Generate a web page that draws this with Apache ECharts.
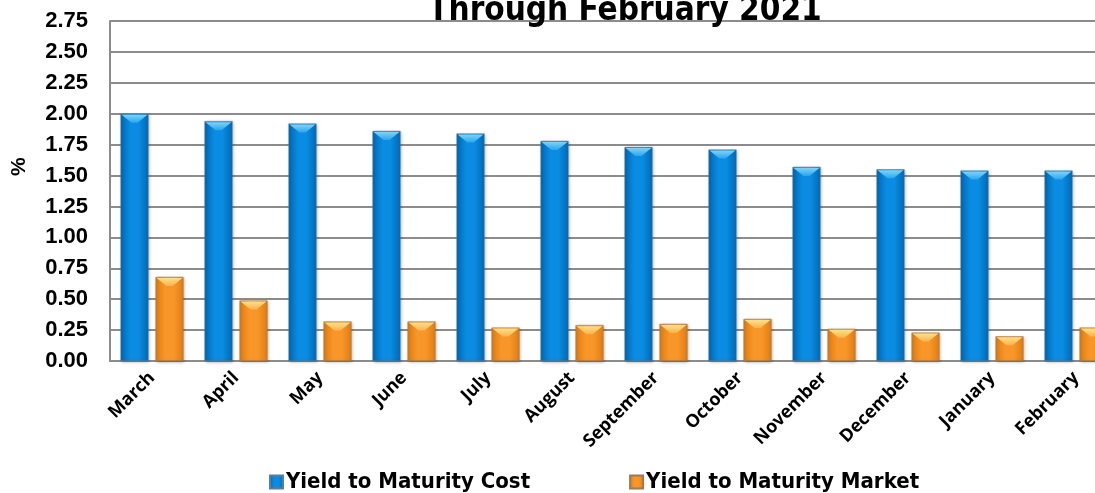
<!DOCTYPE html>
<html>
<head>
<meta charset="utf-8">
<script src="https://cdn.jsdelivr.net/npm/echarts@6/dist/echarts.min.js"></script>
<style>
  html, body { margin: 0; padding: 0; background: #fff; }
  #chart { width: 1095px; height: 493px; }
</style>
</head>
<body>
<div id="chart"></div>
<script>
// Monthly portfolio yields, March 2020 through February 2021 (%)
const months = ['March', 'April', 'May', 'June', 'July', 'August', 'September',
  'October', 'November', 'December', 'January', 'February'];
const yieldCost = [2.00, 1.94, 1.92, 1.86, 1.84, 1.78, 1.73, 1.71, 1.57, 1.55, 1.54, 1.54];
const yieldMarket = [0.68, 0.49, 0.32, 0.32, 0.27, 0.29, 0.30, 0.34, 0.26, 0.23, 0.20, 0.27];
const seriesNames = ['Yield to Maturity Cost', 'Yield to Maturity Market'];

const condensed = '"Liberation Sans Narrow", "DejaVu Sans Condensed", "Roboto Condensed", sans-serif';
const BAR_W = 28;
const BAR_GAP = 7;

function barFill(dark, mid) {
  return new echarts.graphic.LinearGradient(0, 0, 1, 0, [
    { offset: 0, color: dark },
    { offset: 0.35, color: mid },
    { offset: 0.65, color: mid },
    { offset: 1, color: dark }
  ]);
}

// Light chevron bevel on top of each bar
function bevelSeries(values, side, light, edge) {
  return {
    type: 'custom',
    silent: true,
    z: 5,
    data: values.map((v, i) => [i, v]),
    renderItem: function (params, api) {
      const p = api.coord([api.value(0), api.value(1)]);
      const cx = p[0] + side * (BAR_W + BAR_GAP) / 2;
      const x0 = cx - BAR_W / 2 + 1, x1 = cx + BAR_W / 2 - 1;
      const y = p[1] + 1;
      return {
        type: 'polygon',
        shape: { points: [[x0, y], [x1, y], [cx + 3, y + 8], [cx - 3, y + 8]] },
        style: {
          fill: new echarts.graphic.LinearGradient(0, 0, 0, 1, [
            { offset: 0, color: light },
            { offset: 1, color: edge }
          ])
        }
      };
    }
  };
}

const chart = echarts.init(document.getElementById('chart'), null, { renderer: 'canvas' });
chart.setOption({
  animation: false,
  backgroundColor: '#ffffff',
  title: {
    text: 'Through February 2021',
    left: 620,
    textAlign: 'center',
    top: -10,
    textStyle: { fontFamily: condensed, fontWeight: 'bold', fontSize: 33, color: '#000' }
  },
  graphic: [{
    type: 'text',
    x: 9,
    y: 176,
    rotation: Math.PI / 2,
    style: {
      text: '%',
      fontFamily: 'Arial, "Liberation Sans", sans-serif',
      fontWeight: 'bold',
      fontSize: 21,
      fill: '#000'
    }
  }],
  grid: { left: 110, top: 21, width: 1008, height: 340, outerBoundsMode: 'none' },
  legend: {
    top: 466,
    left: 264,
    itemGap: 99,
    itemWidth: 13,
    itemHeight: 13,
    icon: 'rect',
    textStyle: { fontFamily: condensed, fontWeight: 'bold', fontSize: 22, color: '#000', padding: [0, 0, 0, -2] },
    data: seriesNames
  },
  xAxis: {
    type: 'category',
    data: months,
    axisLine: { lineStyle: { color: '#8c8c8c', width: 2 } },
    axisTick: { show: false },
    axisLabel: {
      rotate: 45,
      interval: 0,
      margin: 14,
      fontFamily: '"Open Sans", "DejaVu Sans", sans-serif',
      fontWeight: 'bold',
      fontSize: 18,
      color: '#000'
    }
  },
  yAxis: {
    type: 'value',
    min: 0,
    max: 2.75,
    interval: 0.25,
    axisLine: { show: true, lineStyle: { color: '#8c8c8c', width: 2 } },
    axisTick: { show: false },
    splitLine: { lineStyle: { color: '#8c8c8c', width: 2 } },
    axisLabel: {
      formatter: v => v.toFixed(2),
      margin: 22,
      fontFamily: 'Arial, "Liberation Sans", sans-serif',
      fontWeight: 'bold',
      fontSize: 22,
      color: '#000'
    }
  },
  series: [
    {
      name: seriesNames[0],
      type: 'bar',
      data: yieldCost,
      barWidth: BAR_W,
      barGap: (BAR_GAP / BAR_W * 100) + '%',
      itemStyle: {
        color: barFill('#0068b4', '#0a8ce2'),
        borderColor: '#5a7f9c',
        borderWidth: 0.5,
        shadowColor: 'rgba(0,0,0,0.35)',
        shadowBlur: 3,
        shadowOffsetX: 1,
        shadowOffsetY: 1
      }
    },
    {
      name: seriesNames[1],
      type: 'bar',
      data: yieldMarket,
      barWidth: BAR_W,
      itemStyle: {
        color: barFill('#e07d10', '#f8962a'),
        borderColor: '#9c7a55',
        borderWidth: 0.5,
        shadowColor: 'rgba(0,0,0,0.35)',
        shadowBlur: 3,
        shadowOffsetX: 1,
        shadowOffsetY: 1
      }
    },
    bevelSeries(yieldCost, -1, '#7fd3f7', '#2aa6ec'),
    bevelSeries(yieldMarket, 1, '#ffe08a', '#fbb24a')
  ]
});
</script>
</body>
</html>
